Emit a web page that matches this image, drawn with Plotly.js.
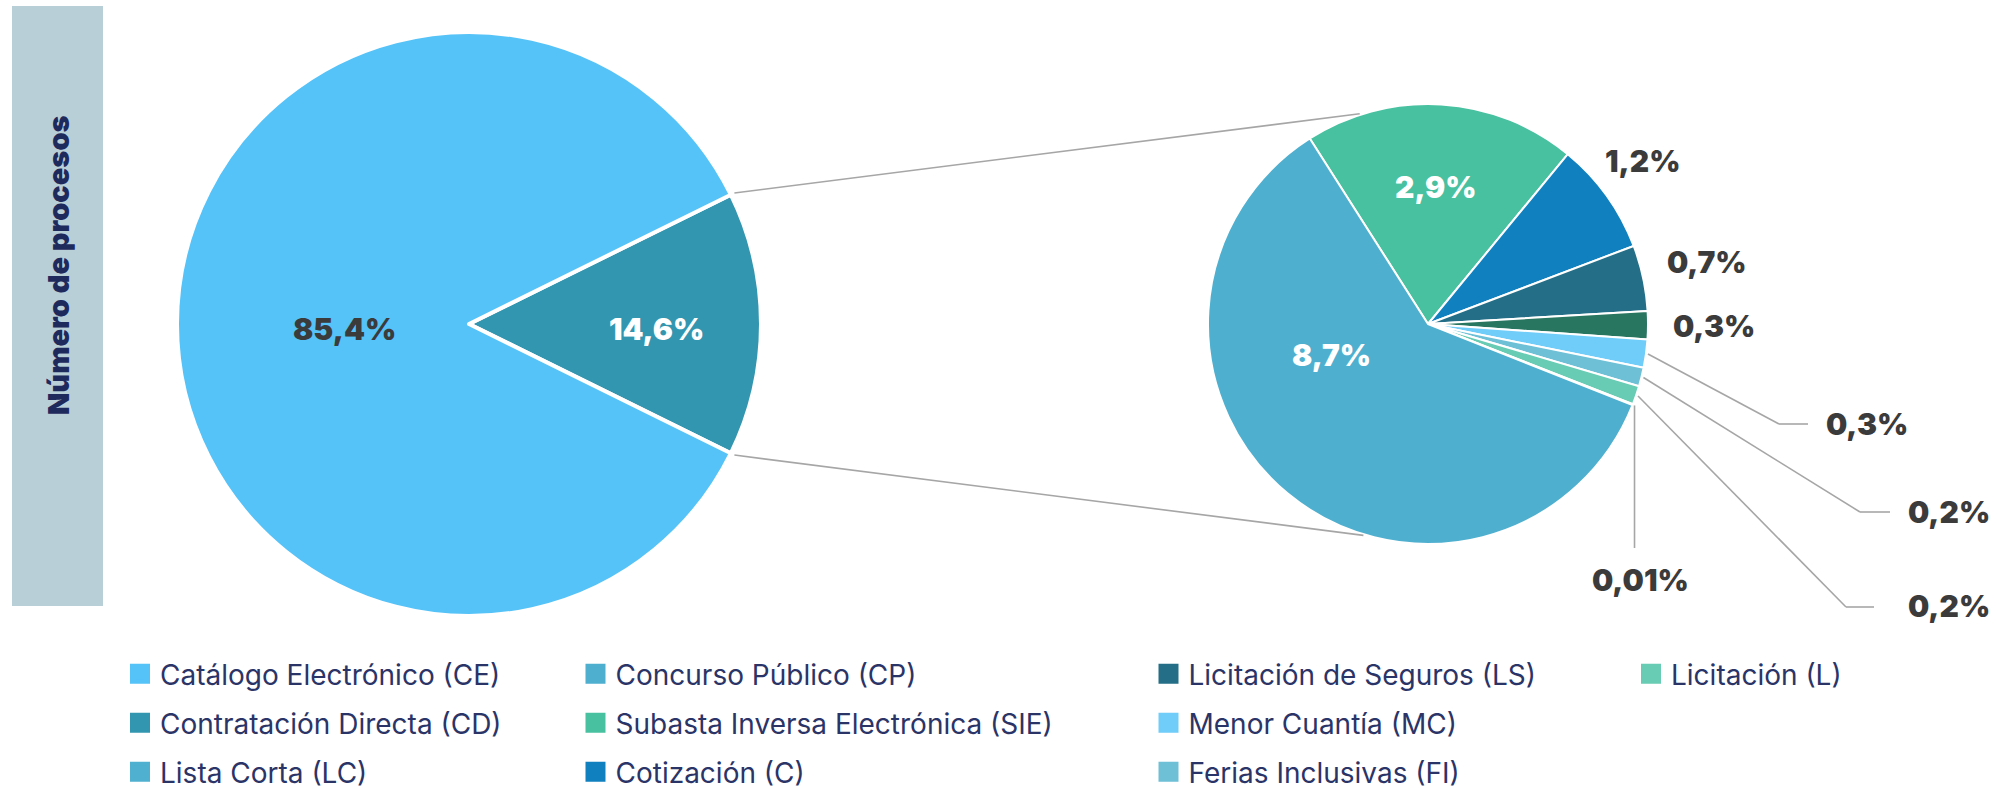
<!DOCTYPE html>
<html><head><meta charset="utf-8">
<script src="https://cdn.plot.ly/plotly-3.0.1.min.js"></script>
<style>html,body{margin:0;padding:0;background:#fff}#chart{width:2009px;height:789px}</style>
</head><body><div id="chart"></div>
<script>
// ---------------- data ----------------
const mainLabels = ['Contratación Directa (CD)', 'Catálogo Electrónico (CE)'];
const mainValues = [14.6, 85.4];
const mainColors = ['#3396B0', '#55C2F8'];

const subLabels = ['Subasta Inversa Electrónica (SIE)', 'Cotización (C)', 'Licitación de Seguros (LS)', 'Otros',
                   'Menor Cuantía (MC)', 'Ferias Inclusivas (FI)', 'Licitación (L)', 'Lista Corta (LC)', 'Concurso Público (CP)'];
const subValues = [2.9, 1.2, 0.7, 0.3, 0.3, 0.2, 0.2, 0.01, 8.7];
const subColors = ['#48C1A0', '#1180BF', '#246F87', '#287560', '#70CCF8', '#6EC0D6', '#67CCB3', '#4FB0CF', '#4FAFCF'];

const legendColumns = [
  ['Catálogo Electrónico (CE)', 'Contratación Directa (CD)', 'Lista Corta (LC)'],
  ['Concurso Público (CP)', 'Subasta Inversa Electrónica (SIE)', 'Cotización (C)'],
  ['Licitación de Seguros (LS)', 'Menor Cuantía (MC)', 'Ferias Inclusivas (FI)'],
  ['Licitación (L)']
];
const bandTitle = 'Número de procesos';

// ---------------- layout constants (pixels) ----------------
const W = 2009, H = 789;
const LEFT = {cx: 469, cy: 324, r: 292};
const RIGHT = {cx: 1428, cy: 324, r: 220};
const subRotation = -32.5;
const connectorEndAngles = [-18, 197];
const legendSymbolX = [140, 595.5, 1168.5, 1651];
const legendTop = 649;
const darkText = '#3B3B3B';
const labelPos = {
  'Catálogo Electrónico (CE)': {x: 344, y: 329, c: darkText},
  'Contratación Directa (CD)': {x: 656, y: 329, c: '#FFFFFF'},
  'Concurso Público (CP)': {x: 1331, y: 355, c: '#FFFFFF'},
  'Subasta Inversa Electrónica (SIE)': {x: 1436, y: 187, c: '#FFFFFF'},
  'Cotización (C)': {x: 1642, y: 161, c: darkText},
  'Licitación de Seguros (LS)': {x: 1707, y: 262, c: darkText},
  'Otros': {x: 1714, y: 326, c: darkText},
  'Menor Cuantía (MC)': {x: 1867, y: 424, c: darkText, elbow: [1779, 424], end: [1808, 424]},
  'Ferias Inclusivas (FI)': {x: 1949, y: 512, c: darkText, elbow: [1860, 512], end: [1890, 512]},
  'Licitación (L)': {x: 1949, y: 606, c: darkText, elbow: [1846, 607], end: [1874, 607]},
  'Lista Corta (LC)': {x: 1640, y: 580, c: darkText, vertical: 548}
};

// ---------------- helpers ----------------
const px = x => x / W;
const py = y => 1 - y / H;
const sum = a => a.reduce((s, v) => s + v, 0);
const fmt = v => String(v).replace('.', ',') + '%';
const domainOf = p => ({x: [px(p.cx - p.r), px(p.cx + p.r)], y: [py(p.cy + p.r), py(p.cy - p.r)]});
const pt = (p, deg, rad) => { const a = deg * Math.PI / 180; return [p.cx + rad * Math.sin(a), p.cy - rad * Math.cos(a)]; };
function sliceAngles(values, rot) {
  const tot = sum(values); let a = rot;
  return values.map(v => { const s = a; a += v / tot * 360; return {start: s, end: a, mid: (s + a) / 2}; });
}

const mainRotation = 90 - mainValues[0] / sum(mainValues) * 360 / 2;
const mainAng = sliceAngles(mainValues, mainRotation);
const subAng = sliceAngles(subValues, subRotation);

const colorOf = {};
mainLabels.forEach((l, i) => colorOf[l] = mainColors[i]);
subLabels.forEach((l, i) => colorOf[l] = subColors[i]);

// ---------------- traces ----------------
const traces = [
  {type: 'pie', labels: mainLabels, values: mainValues, sort: false, direction: 'clockwise', rotation: mainRotation,
   marker: {colors: mainColors, line: {color: '#FFFFFF', width: 4}}, textinfo: 'none', hoverinfo: 'skip',
   showlegend: false, domain: domainOf(LEFT)},
  {type: 'pie', labels: subLabels, values: subValues, sort: false, direction: 'clockwise', rotation: subRotation,
   marker: {colors: subColors, line: {color: '#FFFFFF', width: 2}}, textinfo: 'none', hoverinfo: 'skip',
   showlegend: false, domain: domainOf(RIGHT)}
];

const layout = {
  width: W, height: H, margin: {l: 0, r: 0, t: 0, b: 0, autoexpand: false},
  paper_bgcolor: '#FFFFFF', plot_bgcolor: '#FFFFFF',
  xaxis: {visible: false, range: [0, 1]}, yaxis: {visible: false, range: [0, 1]},
  shapes: [], annotations: [], showlegend: true
};

legendColumns.forEach((col, ci) => {
  const key = ci === 0 ? 'legend' : 'legend' + (ci + 1);
  layout[key] = {x: px(legendSymbolX[ci] - 20), y: py(legendTop), xanchor: 'left', yanchor: 'top',
    orientation: 'v', bgcolor: 'rgba(0,0,0,0)', borderwidth: 0, tracegroupgap: 9.6,
    font: {family: 'Inter, Lato, sans-serif', size: 28, color: '#2B3467'}};
  col.forEach(name => {
    const c = colorOf[name];
    traces.push({type: 'scatter', x: [null], y: [null], mode: 'markers', name: name, legend: key, legendgroup: name,
      marker: {symbol: 'square', size: 16, color: c, line: {width: 4, color: c}}, hoverinfo: 'skip'});
  });
});

// band
layout.shapes.push({type: 'rect', xref: 'paper', yref: 'paper', x0: px(12), x1: px(103), y0: py(606), y1: py(6),
  fillcolor: '#B8CFD8', line: {width: 0}, layer: 'below'});
layout.annotations.push({xref: 'paper', yref: 'paper', x: px(58), y: py(265), text: bandTitle, textangle: -90,
  showarrow: false, xanchor: 'center', yanchor: 'middle',
  font: {family: 'Inter, Lato, sans-serif', size: 29, weight: 900, color: '#1F2A5C'}});

// connectors between pies
const lineStyle = {color: '#A6A6A6', width: 1.6};
function seg(a, b) {
  layout.shapes.push({type: 'line', xref: 'paper', yref: 'paper', x0: px(a[0]), y0: py(a[1]), x1: px(b[0]), y1: py(b[1]), line: lineStyle});
}
seg(pt(LEFT, mainAng[0].start, LEFT.r + 4), pt(RIGHT, connectorEndAngles[0], RIGHT.r + 1));
seg(pt(LEFT, mainAng[0].end, LEFT.r + 4), pt(RIGHT, connectorEndAngles[1], RIGHT.r + 1));

// labels
function addLabel(name, value) {
  const p = labelPos[name];
  layout.annotations.push({xref: 'paper', yref: 'paper', x: px(p.x), y: py(p.y), text: fmt(value), showarrow: false,
    xanchor: 'center', yanchor: 'middle', font: {family: 'Inter, Lato, sans-serif', size: 30, weight: 900, color: p.c}});
}
mainLabels.forEach((l, i) => addLabel(l, mainValues[i]));
subLabels.forEach((l, i) => {
  addLabel(l, subValues[i]);
  const p = labelPos[l];
  const start = pt(RIGHT, subAng[i].mid, RIGHT.r + 2);
  if (p.elbow) { seg(start, p.elbow); seg(p.elbow, p.end); }
  if (p.vertical) { seg(start, [start[0], p.vertical]); }
});

Plotly.newPlot('chart', traces, layout, {staticPlot: true, displayModeBar: false});
</script></body></html>
